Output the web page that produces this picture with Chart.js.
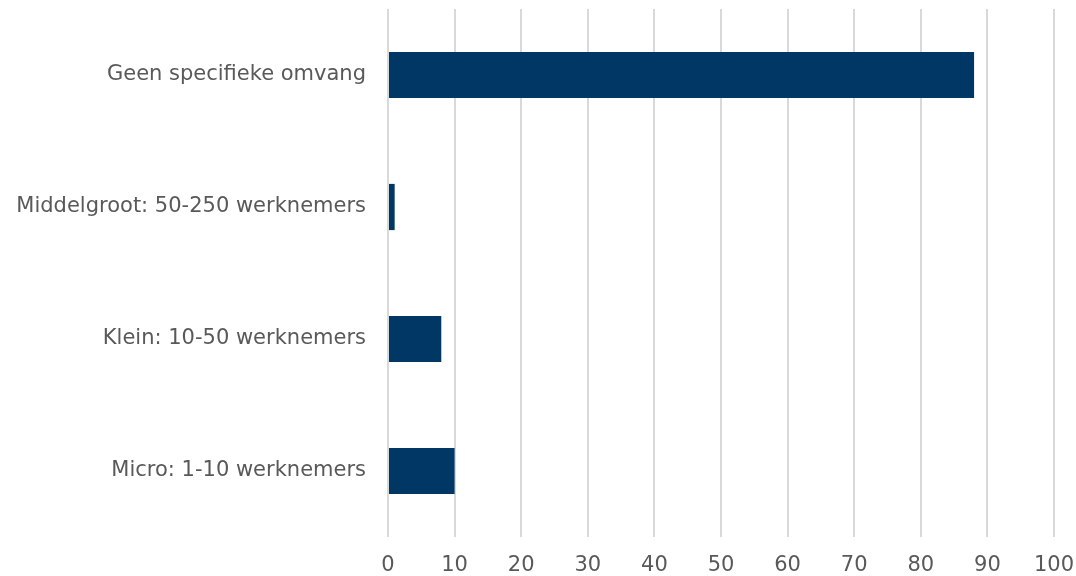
<!DOCTYPE html>
<html>
<head>
<meta charset="utf-8">
<script src="https://cdn.jsdelivr.net/npm/chart.js@4"></script>
<style>
  html, body { margin: 0; padding: 0; background: #fff; }
  #wrap { width: 1076px; height: 576px; }
</style>
</head>
<body>
<div id="wrap"><canvas id="chart" width="1076" height="576"></canvas></div>
<script>
// Data
var categories = [
  'Geen specifieke omvang',
  'Middelgroot: 50-250 werknemers',
  'Klein: 10-50 werknemers',
  'Micro: 1-10 werknemers'
];
var values = [88, 1, 8, 10];
var axisMin = 0;
var axisMax = 100;
var axisStep = 10;

var textColor = '#595959';
var fontFamily = '"DejaVu Sans", Verdana, sans-serif';

new Chart(document.getElementById('chart'), {
  type: 'bar',
  data: {
    labels: categories,
    datasets: [{
      data: values,
      backgroundColor: '#003764',
      borderWidth: 0,
      barPercentage: 0.7,
      categoryPercentage: 0.5
    }]
  },
  options: {
    indexAxis: 'y',
    responsive: false,
    animation: false,
    layout: { padding: { top: 9, right: 22, left: 0, bottom: 0 } },
    plugins: {
      legend: { display: false },
      tooltip: { enabled: false }
    },
    scales: {
      x: {
        min: axisMin,
        max: axisMax,
        ticks: {
          stepSize: axisStep,
          color: textColor,
          padding: 16,
          font: { family: fontFamily, size: 21 }
        },
        grid: { color: '#d9d9d9', lineWidth: 2, drawTicks: false },
        border: { display: false },
        afterFit: function(scale) {
          scale.height = 39;
          scale.paddingLeft = 0;
          scale.paddingRight = 0;
        }
      },
      y: {
        ticks: {
          color: textColor,
          padding: 22,
          font: { family: fontFamily, size: 21 }
        },
        grid: { display: false, drawTicks: false },
        border: { display: false },
        afterFit: function(scale) {
          scale.width = 388;
          scale.paddingTop = 0;
          scale.paddingBottom = 0;
        }
      }
    }
  }
});
</script>
</body>
</html>
